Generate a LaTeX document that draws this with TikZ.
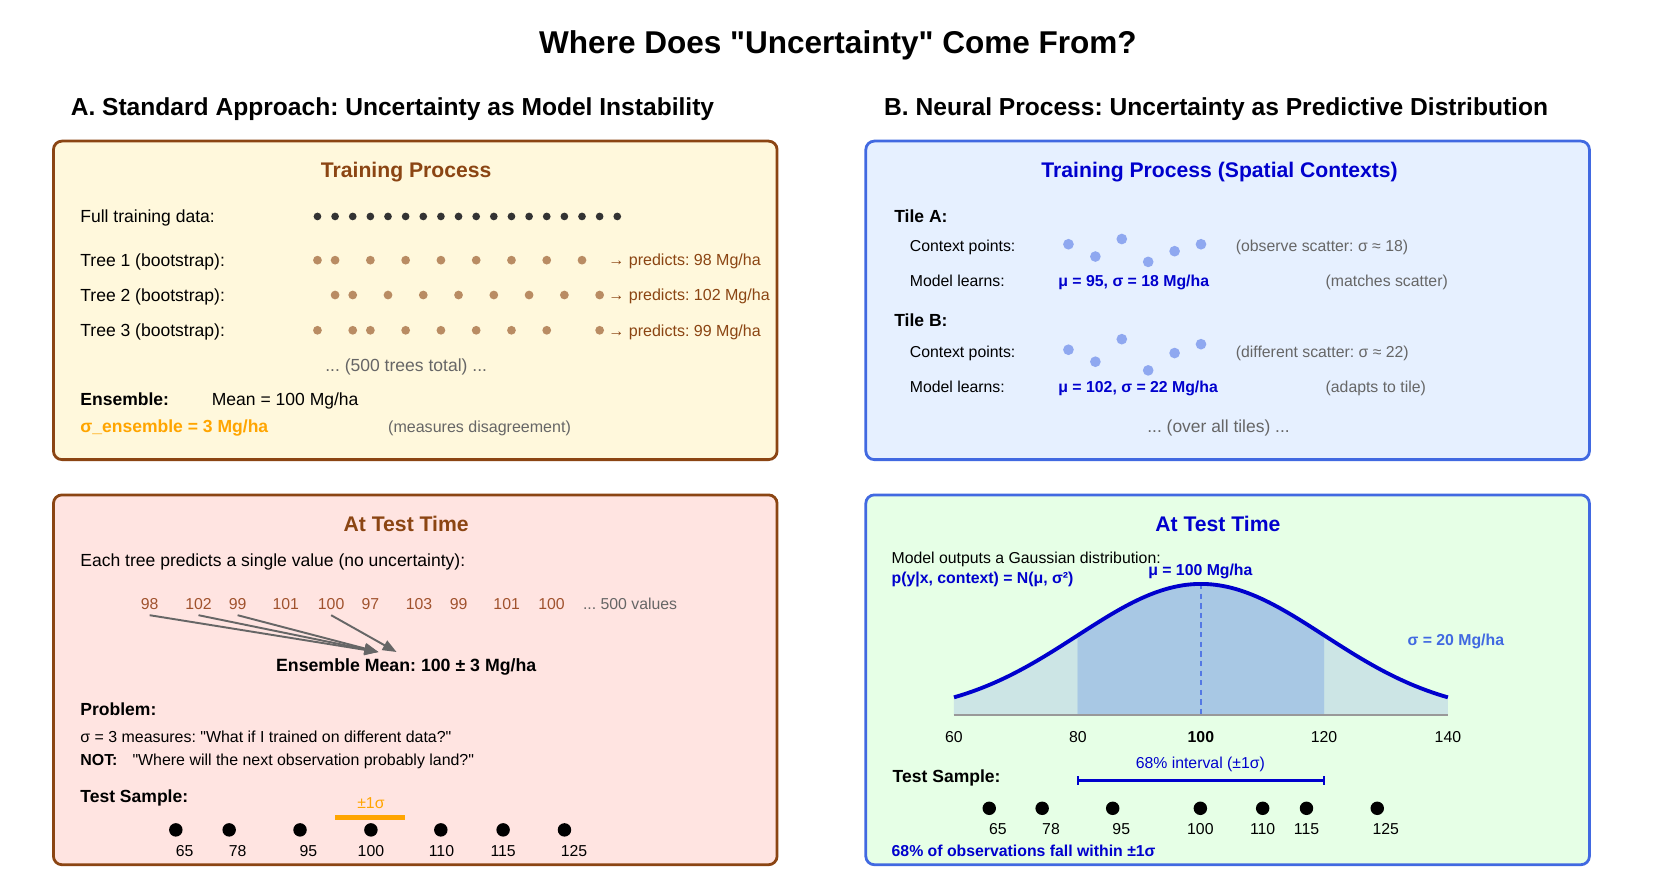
\documentclass[tikz,border=0pt]{standalone}
\usepackage{fontspec}
\setmainfont{Liberation Sans}[Ligatures=TeXOff]
\usetikzlibrary{arrows.meta,calc}
\definecolor{brownB}{HTML}{8B4513}
\definecolor{sienna}{HTML}{A0522D}
\definecolor{creamF}{HTML}{FFF8DC}
\definecolor{roseF}{HTML}{FFE4E1}
\definecolor{blueB}{HTML}{4169E1}
\definecolor{lblueF}{HTML}{E6F0FF}
\definecolor{lgreenF}{HTML}{E6FFE6}
\definecolor{mblue}{HTML}{0000CD}
\definecolor{grayT}{HTML}{666666}
\definecolor{treeDot}{HTML}{B98C63}
\definecolor{ctxDot}{HTML}{8FA8F0}
\definecolor{orangeT}{HTML}{FFA500}
\definecolor{midF}{HTML}{A8C8E4}
\definecolor{tailF}{HTML}{CCE5E5}
\definecolor{dkDot}{HTML}{333333}
\newcommand{\fs}[1]{\fontsize{#1}{#1}\selectfont}
\newcommand{\q}{\char34\relax}
\frenchspacing
\tikzset{
  panel/.style={rounded corners=8pt, line width=2.6pt},
  lt/.style={anchor=base west, inner sep=0pt, font=\fs{16.4}},
  ls/.style={anchor=base west, inner sep=0pt, font=\fs{14.8}},
  ct/.style={anchor=base, inner sep=0pt, font=\fs{14.8}},
  hd/.style={anchor=base, inner sep=0pt, font=\fs{19.8}\bfseries},
  sec/.style={anchor=base west, inner sep=0pt, font=\fs{23}\bfseries},
  arr/.style={draw=grayT, line width=1.8pt, -{Triangle[length=13pt,width=10pt]}},
}
\begin{document}
\begin{tikzpicture}[x=1pt,y=-1pt]
\path[use as bounding box, fill=white] (0,0) rectangle (1568,825);

\node[anchor=base, inner sep=0pt, font=\fs{29.5}\bfseries] (title) at (784,50) {Where Does \q Uncertainty\q{} Come From?};
\node[sec] (secA) at (66,108) {A. Standard Approach: Uncertainty as Model Instability};
\node[sec] (secB) at (827,108) {B. Neural Process: Uncertainty as Predictive Distribution};

% ---------- Panel A1
\draw[panel, draw=brownB, fill=creamF] (50,132) rectangle (727,430);
\node[hd, text=brownB] (a1t) at (380,166) {Training Process};
\node[lt] (full) at (75,208.3) {Full training data:};
\foreach \k in {0,...,17} \fill[dkDot] ({297+16.5*\k},202.5) circle (3.6);
\node[lt] (t1) at (75,249.2) {Tree 1 (bootstrap):};
\node[lt] (t2) at (75,281.8) {Tree 2 (bootstrap):};
\node[lt] (t3) at (75,314.8) {Tree 3 (bootstrap):};
\foreach \k in {0,1,3,5,7,9,11,13,15} \fill[treeDot] ({297+16.5*\k},243.4) circle (4.1);
\foreach \k in {1,2,4,6,8,10,12,14,16} \fill[treeDot] ({297+16.5*\k},276) circle (4.1);
\foreach \k in {0,2,3,5,7,9,11,13,16} \fill[treeDot] ({297+16.5*\k},309) circle (4.1);
\node[ls, font=\fs{15}, text=brownB] (p1) at (569,248.8) {→ predicts: 98 Mg/ha};
\node[ls, font=\fs{15}, text=brownB] (p2) at (569,281.4) {→ predicts: 102 Mg/ha};
\node[ls, font=\fs{15}, text=brownB] (p3) at (569,314.4) {→ predicts: 99 Mg/ha};
\node[ct, text=grayT, font=\fs{16.4}] (tot) at (380,347.5) {... (500 trees total) ...};
\node[lt, font=\fs{16.4}\bfseries] (ens) at (75,379.8) {Ensemble:};
\node[lt] (mean) at (198,379.8) {Mean = 100 Mg/ha};
\node[lt, font=\fs{16.4}\bfseries, text=orangeT] (sens) at (75,404.8) {σ\_ensemble = 3 Mg/ha};
\node[ls, font=\fs{15}, text=grayT] (meas) at (363,404.4) {(measures disagreement)};

% ---------- Panel B1
\draw[panel, draw=blueB, fill=lblueF] (810,132) rectangle (1487,430);
\node[hd, text=mblue] (b1t) at (1141,166) {Training Process (Spatial Contexts)};
\node[lt, font=\fs{16.4}\bfseries] (tA) at (836.5,207.8) {Tile A:};
\node[ls] (cpA) at (851,235.2) {Context points:};
\foreach \px/\py in {999.6/228.5,1024.8/240,1049.5/223.6,1074.2/245,1098.9/235,1123.6/228.5}
  \fill[ctxDot] (\px,\py) circle (5);
\node[ls, text=grayT] (obsA) at (1156,235.2) {(observe scatter: σ ≈ 18)};
\node[ls] (mlA) at (851,268.2) {Model learns:};
\node[ls, font=\fs{14.8}\bfseries, text=mblue] (muA) at (990,268.2) {μ = 95, σ = 18 Mg/ha};
\node[ls, text=grayT] (matA) at (1240,268.2) {(matches scatter)};
\node[lt, font=\fs{16.4}\bfseries] (tB) at (836.5,305.8) {Tile B:};
\node[ls] (cpB) at (851,334.2) {Context points:};
\foreach \px/\py in {999.6/327.2,1024.8/338.4,1049.5/317.3,1074.2/346.5,1098.9/330.3,1123.6/322}
  \fill[ctxDot] (\px,\py) circle (5);
\node[ls, text=grayT] (obsB) at (1156,334.2) {(different scatter: σ ≈ 22)};
\node[ls] (mlB) at (851,366.9) {Model learns:};
\node[ls, font=\fs{14.8}\bfseries, text=mblue] (muB) at (990,366.9) {μ = 102, σ = 22 Mg/ha};
\node[ls, text=grayT] (adB) at (1240,366.9) {(adapts to tile)};
\node[ct, text=grayT, font=\fs{16.3}] (over) at (1140,404.8) {... (over all tiles) ...};

% ---------- Panel A2
\draw[panel, draw=brownB, fill=roseF] (50,463) rectangle (727,809);
\node[hd, text=brownB] (a2t) at (380,496.8) {At Test Time};
\node[lt] (each) at (75,529.6) {Each tree predicts a single value (no uncertainty):};
\foreach \nm/\px/\v in {n1/140/98,n2/185.7/102,n3/222.3/99,n4/267.4/101,n5/309.8/100,n6/346.5/97,n7/392/103,n8/429/99,n9/474/101,n10/516/100}
  \node[ct, text=sienna] (\nm) at (\px,570.2) {\v};
\node[ls, text=grayT] (more) at (545.3,570.2) {... 500 values};
\coordinate (em1) at (354,610);
\coordinate (em2) at (371,610);
\draw[arr] ([yshift=-5pt]n1.south) -- (em1);
\draw[arr] ([yshift=-5pt]n2.south) -- (em1);
\draw[arr] ([yshift=-5pt]n3.south) -- (em1);
\draw[arr] ([yshift=-5pt]n5.south) -- (em2);
\node[anchor=base, inner sep=0pt, font=\fs{16.6}\bfseries] (emean) at (380,628.5) {Ensemble Mean: 100 ± 3 Mg/ha};
\node[lt, font=\fs{16.4}\bfseries] (prob) at (75,669.5) {Problem:};
\node[ls, font=\fs{14.9}] (q1) at (75,694.3) {σ = 3 measures: \q What if I trained on different data?\q};
\node[ls, font=\fs{14.9}\bfseries] (notl) at (75,715.8) {NOT:};
\node[ls, font=\fs{14.9}] (q2) at (123.8,715.8) {\q Where will the next observation probably land?\q};
\node[lt, font=\fs{16.4}\bfseries] (tsA) at (75,751) {Test Sample:};
\node[ct, text=orangeT] (pm) at (347,756.8) {±1σ};
\draw[orangeT, line width=4.4pt] (313.8,764.6) -- (379.2,764.6);
\foreach \px/\lx/\v [count=\i] in {164.5/172.8/65,214.4/222.3/78,280.7/288.6/95,347/347/100,412.4/413/110,470.7/470.7/115,528.1/537/125}{
  \fill[black] (\px,776.4) circle (6.3);
  \node[ct] (sa\i) at (\lx,801) {\v};
}

% ---------- Panel B2
\draw[panel, draw=blueB, fill=lgreenF] (810,463) rectangle (1487,809);
\node[hd, text=mblue] (b2t) at (1139.4,496.8) {At Test Time};
\node[ls] (mo) at (834,526.8) {Model outputs a Gaussian distribution:};
\node[ls, font=\fs{14.8}\bfseries, text=mblue] (pyx) at (834,546) {p(y|x, context) = N(μ, σ²)};
% Gaussian fills
\fill[tailF] (892.5,669) -- plot[domain=60:80,samples=30] ({892.5+(\x-60)*5.776},{669-122.7*exp(-((\x-100)^2)/800)}) -- (1008.02,669) -- cycle;
\fill[tailF] (1239,669) -- plot[domain=120:140,samples=30] ({892.5+(\x-60)*5.776},{669-122.7*exp(-((\x-100)^2)/800)}) -- (1354.6,669) -- cycle;
\fill[midF] (1008.02,669) -- plot[domain=80:120,samples=60] ({892.5+(\x-60)*5.776},{669-122.7*exp(-((\x-100)^2)/800)}) -- (1239,669) -- cycle;
\draw[gray!80, line width=1.5pt] (892.5,669) -- (1354.6,669);
\draw[blueB!90, line width=1.3pt, dashed, dash pattern=on 5pt off 4pt] (1123.5,546.3) -- (1123.5,669);
\draw[mblue, line width=3.6pt] plot[domain=60:140,samples=120] ({892.5+(\x-60)*5.776},{669-122.7*exp(-((\x-100)^2)/800)});
\node[ct, font=\fs{14.8}\bfseries, text=mblue] (mu) at (1123,538.3) {μ = 100 Mg/ha};
\node[ct, font=\fs{14.8}\bfseries, text=blueB] (sig) at (1362,604.3) {σ = 20 Mg/ha};
\node[ct] (x60) at (892.5,694.6) {60};
\node[ct] (x80) at (1008.5,694.6) {80};
\node[ct, font=\fs{14.8}\bfseries] (x100) at (1123.5,694.6) {100};
\node[ct] (x120) at (1238.7,694.6) {120};
\node[ct] (x140) at (1354.6,694.6) {140};
\node[ct, text=mblue] (int) at (1123,718.9) {68\% interval (±1σ)};
\draw[mblue, line width=2.4pt] (1008.5,730.4) -- (1238.7,730.4);
\draw[mblue, line width=2pt] (1008.5,726) -- (1008.5,734.8);
\draw[mblue, line width=2pt] (1238.7,726) -- (1238.7,734.8);
\node[lt, font=\fs{16.4}\bfseries] (tsB) at (835,732) {Test Sample:};
\foreach \px/\lx/\v [count=\i] in {925.5/933.5/65,975/983.3/78,1041/1049/95,1123/1123/100,1181.3/1181.3/110,1222.3/1222.3/115,1288.5/1296.4/125}{
  \fill[black] (\px,756.2) circle (6.3);
  \node[ct] (sb\i) at (\lx,781.1) {\v};
}
\node[ls, font=\fs{14.8}\bfseries, text=mblue] (within) at (834,801) {68\% of observations fall within ±1σ};
\end{tikzpicture}
\end{document}
